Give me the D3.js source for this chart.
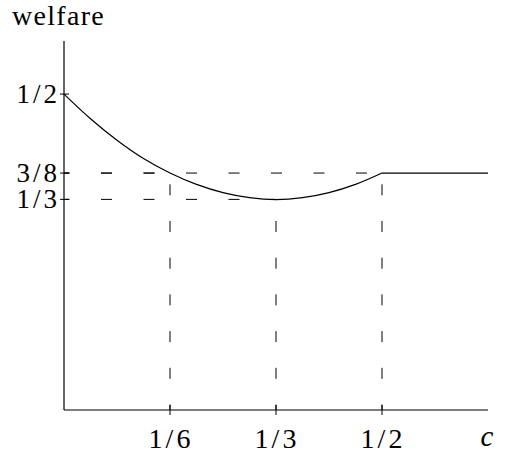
<!DOCTYPE html>
<html>
<head>
<meta charset="utf-8">
<script src="https://cdnjs.cloudflare.com/ajax/libs/d3/7.8.5/d3.min.js"></script>
<style>
  body { margin: 0; background: #fff; }
</style>
</head>
<body>
<svg id="bg" width="505" height="459"></svg>
<script>
// curve
var cVals = [0, 1/24, 1/12, 1/8, 1/6, 5/24, 1/4, 7/24, 1/3, 3/8, 5/12, 11/24, 1/2, 2/3];
var welfare = [0.5, 0.461, 0.427, 0.398, 0.375, 0.357, 0.344, 0.336, 0.333, 0.336, 0.344, 0.357, 0.375, 0.375];
var kinkAt = 1/2; // curve turns flat here

// guide points (dashed lines)
var guideX = [1/6, 1/3, 1/2];
var guideY = [3/8, 1/3, 3/8];

var xTicks = [1/6, 1/3, 1/2];
var xTickLabels = ['1/6', '1/3', '1/2'];
var yTicks = [1/2, 3/8, 1/3];
var yTickLabels = ['1/2', '3/8', '1/3'];

var serif = '"Liberation Serif", "DejaVu Serif", serif';

var xScale = d3.scaleLinear().domain([0, 2/3]).range([64, 488]);
var yScale = d3.scaleLinear().domain([0, 0.584]).range([410, 41]);

var svg = d3.select('#bg');

// dashed guides, horizontal from the y axis, vertical from the x axis
guideX.forEach(function(gx, i) {
  svg.append('line')
    .attr('x1', xScale(0)).attr('x2', xScale(gx))
    .attr('y1', yScale(guideY[i])).attr('y2', yScale(guideY[i]))
    .attr('stroke', '#000').attr('stroke-width', 1)
    .attr('stroke-dasharray', '11,31.5')
    .attr('stroke-dashoffset', 5.5);
  svg.append('line')
    .attr('x1', xScale(gx)).attr('x2', xScale(gx))
    .attr('y1', yScale(0)).attr('y2', yScale(guideY[i]))
    .attr('stroke', '#000').attr('stroke-width', 1)
    .attr('stroke-dasharray', '11,25.7')
    .attr('stroke-dashoffset', 5.5);
});

// axes
svg.append('line')
  .attr('x1', xScale(0)).attr('x2', xScale(0))
  .attr('y1', yScale(0)).attr('y2', yScale.range()[1])
  .attr('stroke', '#000').attr('stroke-width', 1.2);
svg.append('line')
  .attr('x1', xScale(0)).attr('x2', xScale.range()[1])
  .attr('y1', yScale(0)).attr('y2', yScale(0))
  .attr('stroke', '#000').attr('stroke-width', 1.2);

svg.selectAll('.xtick')
  .data(xTicks)
  .join('line')
  .attr('class', 'xtick')
  .attr('x1', d => xScale(d)).attr('x2', d => xScale(d))
  .attr('y1', yScale(0) - 5).attr('y2', yScale(0) + 5)
  .attr('stroke', '#000').attr('stroke-width', 1);

svg.selectAll('.ytick')
  .data(yTicks)
  .join('line')
  .attr('class', 'ytick')
  .attr('x1', xScale(0) - 4).attr('x2', xScale(0) + 5)
  .attr('y1', d => yScale(d)).attr('y2', d => yScale(d))
  .attr('stroke', '#000').attr('stroke-width', 1);

svg.selectAll('.xlab')
  .data(xTicks)
  .join('text')
  .attr('class', 'xlab')
  .attr('x', d => xScale(d) + 1)
  .attr('y', 448)
  .attr('text-anchor', 'middle')
  .attr('font-family', serif)
  .attr('font-size', 28)
  .attr('letter-spacing', 3)
  .text((d, i) => xTickLabels[i]);

svg.selectAll('.ylab')
  .data(yTicks)
  .join('text')
  .attr('class', 'ylab')
  .attr('x', 60)
  .attr('y', d => yScale(d) + 9)
  .attr('text-anchor', 'end')
  .attr('font-family', serif)
  .attr('font-size', 27)
  .attr('letter-spacing', 3)
  .text((d, i) => yTickLabels[i]);

svg.append('text')
  .attr('x', 487).attr('y', 446)
  .attr('text-anchor', 'middle')
  .attr('font-family', serif)
  .attr('font-size', 29)
  .attr('font-style', 'italic')
  .text('c');

svg.append('text')
  .attr('x', 12).attr('y', 25)
  .attr('font-family', serif)
  .attr('font-size', 28)
  .attr('letter-spacing', 1.3)
  .text('welfare');

// welfare curve: smooth part up to the kink, then the flat part
var pts = cVals.map((c, i) => [c, welfare[i]]);
var bowl = pts.filter(d => d[0] <= kinkAt);
var flat = pts.filter(d => d[0] >= kinkAt);

svg.append('path')
  .datum(bowl)
  .attr('fill', 'none')
  .attr('stroke', '#000')
  .attr('stroke-width', 1.2)
  .attr('d', d3.line()
    .curve(d3.curveCatmullRom)
    .x(d => xScale(d[0]))
    .y(d => yScale(d[1])));

svg.append('path')
  .datum(flat)
  .attr('fill', 'none')
  .attr('stroke', '#000')
  .attr('stroke-width', 1.2)
  .attr('d', d3.line()
    .x(d => xScale(d[0]))
    .y(d => yScale(d[1])));
</script>
</body>
</html>
